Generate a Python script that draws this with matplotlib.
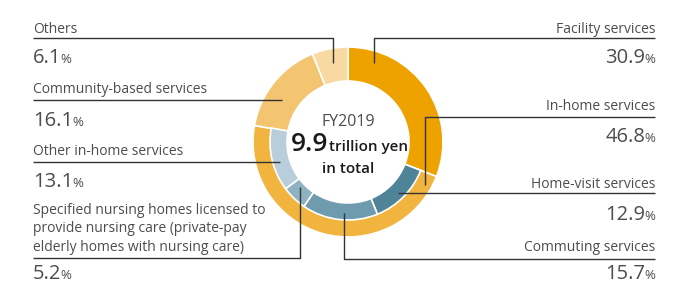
import matplotlib.pyplot as plt

W, H = 690, 284

# outer ring (share of total, %)
outer_labels = ["Facility services", "In-home services", "Community-based services", "Others"]
outer_values = [30.9, 46.8, 16.1, 6.1]
outer_colors = ["#EDA200", "#F1B43F", "#F3C571", "#F8D9A1"]

# inner ring: breakdown of in-home services (%)
inner_labels = ["Home-visit services", "Commuting services",
                "Specified nursing homes licensed to\nprovide nursing care (private-pay\nelderly homes with nursing care)",
                "Other in-home services"]
inner_values = [12.9, 15.7, 5.2, 13.1]
inner_colors = ["#4F8398", "#6F9BAF", "#8FB2C3", "#B8CFDB"]

total_text = "9.9"
year_text = "FY2019"

plt.rcParams["font.family"] = ["Open Sans", "DejaVu Sans"]
label_color = "#4d4d4d"
line_color = "#333333"

fig = plt.figure(figsize=(W / 100, H / 100), dpi=100)
ax = fig.add_axes([0, 0, 1, 1])
ax.set_xlim(0, W)
ax.set_ylim(0, H)
ax.axis("off")

cx, cy = 348, H - 142
r_out, r_mid, r_in = 95, 78, 61

ax.pie(outer_values, colors=outer_colors, radius=r_out, center=(cx, cy),
       startangle=90, counterclock=False,
       wedgeprops=dict(width=r_out - r_in, edgecolor="white", linewidth=1.2))

# inner ring sits inside the in-home slice, padded with invisible parts
rest = sum(outer_values) - outer_values[0] - sum(inner_values)
inner_all = [outer_values[0]] + inner_values + [max(rest, 0)]
wedges, _ = ax.pie(inner_all, colors=["none"] + inner_colors + ["none"], radius=r_mid,
                   center=(cx, cy), startangle=90, counterclock=False,
                   wedgeprops=dict(width=r_mid - r_in, edgecolor="white", linewidth=1.2))
wedges[0].set_edgecolor("none")
wedges[-1].set_edgecolor("none")
ax.set_xlim(0, W)
ax.set_ylim(0, H)
ax.set_aspect("equal")


def leader(points):
    xs = [p[0] for p in points]
    ys = [H - p[1] for p in points]
    ax.plot(xs, ys, color=line_color, lw=1.0, solid_capstyle="butt")


def name(x, y, s, ha):
    ax.text(x, H - y, s, ha=ha, va="baseline", fontsize=10, color=label_color,
            linespacing=1.35)


fig.canvas.draw()
renderer = fig.canvas.get_renderer()


def value(x, y, v, ha):
    if ha == "left":
        t = ax.text(x, H - y, f"{v}", ha="left", va="baseline", fontsize=14.5, color=label_color)
        bb = t.get_window_extent(renderer).transformed(ax.transData.inverted())
        ax.text(bb.x1 - 1, H - y, "%", ha="left", va="baseline", fontsize=9.5, color=label_color)
    else:
        p = ax.text(x, H - y, "%", ha="right", va="baseline", fontsize=9.5, color=label_color)
        bb = p.get_window_extent(renderer).transformed(ax.transData.inverted())
        ax.text(bb.x0 + 1, H - y, f"{v}", ha="right", va="baseline", fontsize=14.5, color=label_color)


LX, RX = 33, 655

# left side
name(LX, 33, outer_labels[3], "left")
leader([(LX, 38), (333, 38), (333, 63)])
value(LX, 63, outer_values[3], "left")

name(LX, 93, outer_labels[2], "left")
leader([(LX, 100), (282, 100)])
value(LX, 126, outer_values[2], "left")

name(LX, 155, inner_labels[3], "left")
leader([(LX, 162), (280, 162)])
value(LX, 187, inner_values[3], "left")

ax.text(LX, H - 251, inner_labels[2], ha="left", va="baseline", fontsize=10,
        color=label_color, linespacing=1.32)
leader([(LX, 258), (300, 258), (300, 187)])
value(LX, 279, inner_values[2], "left")

# right side
name(RX, 33, outer_labels[0], "right")
leader([(374, 63), (374, 38), (RX, 38)])
value(RX, 63, outer_values[0], "right")

name(RX, 110, outer_labels[1], "right")
leader([(425, 185), (425, 117), (RX, 117)])
value(RX, 142, outer_values[1], "right")

name(RX, 188, inner_labels[0], "right")
leader([(398, 193), (RX, 193)])
value(RX, 220, inner_values[0], "right")

name(RX, 251, inner_labels[1], "right")
leader([(344, 213), (344, 259), (RX, 259)])
value(RX, 279, inner_values[1], "right")

# centre text
ax.text(cx, H - 126, year_text, ha="center", va="baseline", fontsize=11.5, color=label_color)
t9 = ax.text(291, H - 151, total_text, ha="left", va="baseline", fontsize=19,
             fontweight="semibold", color="#1a1a1a")
bb = t9.get_window_extent(renderer).transformed(ax.transData.inverted())
ax.text(bb.x1 + 1, H - 151, "trillion yen", ha="left", va="baseline", fontsize=11,
        fontweight="semibold", color="#1a1a1a")
ax.text(cx, H - 173, "in total", ha="center", va="baseline", fontsize=11,
        fontweight="semibold", color="#1a1a1a")

fig.savefig("out.png", dpi=100, facecolor="white")
